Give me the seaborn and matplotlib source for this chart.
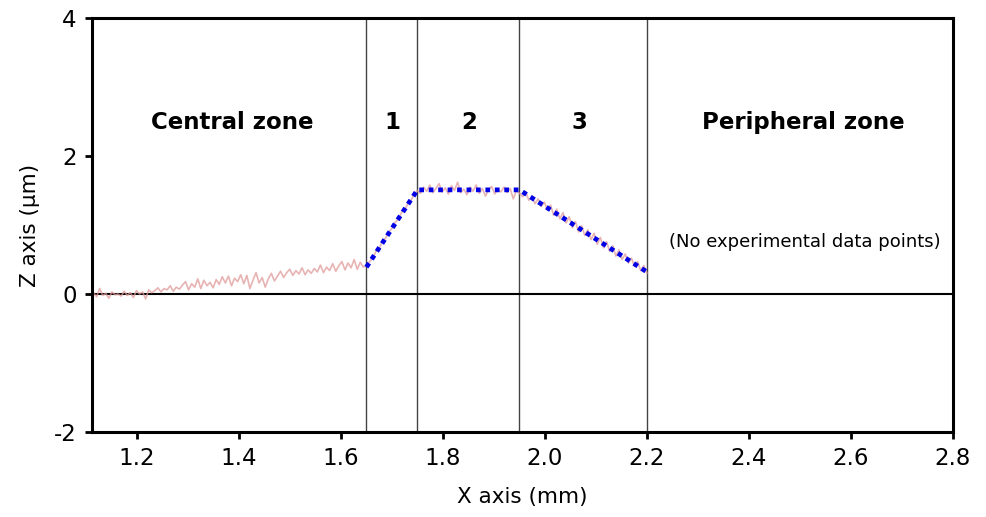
import numpy as np
import pandas as pd
import matplotlib
matplotlib.use("Agg")
import matplotlib.pyplot as plt
import seaborn as sns

sns.set_style('ticks', {'axes.edgecolor': 'black', 'text.color': 'black',
                        'xtick.color': 'black', 'ytick.color': 'black',
                        'axes.labelcolor': 'black'})
plt.rcParams['font.family'] = ['DejaVu Sans']

# %%
# measured profile, read off per zone (z in um)
z_central = [
    0.02, -0.04, 0.08, -0.02, 0.01, -0.06, 0.03, -0.01, 0.00, -0.03,
    0.04, -0.02, 0.02, -0.05, 0.05, 0.00, 0.03, -0.07, 0.06, 0.02,
    0.05, 0.09, 0.03, 0.08, 0.06, 0.12, 0.04, 0.10, 0.07, 0.13,
    0.18, 0.06, 0.15, 0.10, 0.22, 0.08, 0.20, 0.12, 0.17, 0.09,
    0.21, 0.14, 0.25, 0.16, 0.26, 0.12, 0.23, 0.18, 0.28, 0.15,
    0.27, 0.08, 0.20, 0.31, 0.16, 0.24, 0.10, 0.22, 0.30, 0.19,
    0.26, 0.33, 0.24, 0.31, 0.36, 0.27, 0.34, 0.29, 0.38, 0.28,
    0.35, 0.30, 0.37, 0.32, 0.42, 0.31, 0.39, 0.34, 0.44, 0.33,
    0.41, 0.47, 0.35, 0.45, 0.38, 0.50, 0.36, 0.46, 0.39, 0.42,
]
z_zone1 = [0.38, 0.47, 0.52, 0.62, 0.66, 0.76, 0.81, 0.90, 0.95, 1.04,
           1.08, 1.18, 1.22, 1.31, 1.36, 1.45, 1.50]
z_zone2 = [1.52, 1.46, 1.55, 1.49, 1.58, 1.47, 1.53, 1.60, 1.48, 1.54,
           1.45, 1.57, 1.50, 1.62, 1.47, 1.52, 1.44, 1.55, 1.49, 1.58,
           1.46, 1.53, 1.42, 1.51, 1.56, 1.45, 1.52, 1.48, 1.55, 1.47,
           1.53, 1.38, 1.50, 1.46]
z_zone3 = [1.52, 1.41, 1.48, 1.36, 1.42, 1.31, 1.38, 1.27, 1.33, 1.22,
           1.29, 1.14, 1.23, 1.09, 1.18, 1.03, 1.12, 0.96, 1.05, 0.90,
           0.99, 0.85, 0.93, 0.79, 0.88, 0.72, 0.82, 0.67, 0.76, 0.62,
           0.70, 0.55, 0.64, 0.50, 0.58, 0.45, 0.52, 0.40, 0.47, 0.34,
           0.41, 0.30]

# zone limits along x (mm)
x_start = 1.115
zone_edges = [1.65, 1.75, 1.95, 2.2]

# fitted piecewise model
fit_x = [1.65, 1.75, 1.95, 2.2]
fit_z = [0.39, 1.51, 1.51, 0.32]

zone_labels = ["Central zone", "1", "2", "3", "Peripheral zone"]
zone_label_x = [1.386, 1.70, 1.851, 2.067, 2.506]
label_z = 2.48

note_text = "(No experimental data points)"
note_x, note_z = 2.51, 0.75

xticks = [1.2, 1.4, 1.6, 1.8, 2.0, 2.2, 2.4, 2.6, 2.8]
yticks = [-2, 0, 2, 4]

# %%
segments = [
    (x_start, zone_edges[0], z_central),
    (zone_edges[0], zone_edges[1], z_zone1),
    (zone_edges[1], zone_edges[2], z_zone2),
    (zone_edges[2], zone_edges[3], z_zone3),
]
frames = []
for a, b, z in segments:
    frames.append(pd.DataFrame({"x": np.linspace(a, b, len(z)), "z": z}))
profile = pd.concat(frames, ignore_index=True).drop_duplicates("x")
fit = pd.DataFrame({"x": fit_x, "z": fit_z})

fig = plt.figure(figsize=(9.87, 5.17), dpi=100)
ax = fig.add_axes([0.0932, 0.1644, 0.8724, 0.8006])

sns.lineplot(data=profile, x="x", y="z", ax=ax, color="#e09a9a", lw=1.2,
             alpha=0.75, estimator=None, sort=False)
sns.lineplot(data=fit, x="x", y="z", ax=ax, color="#0000e6", lw=3.4,
             estimator=None, sort=False, zorder=5)
fit_line = ax.lines[-1]
fit_line.set_linestyle((0, (1.0, 1.0)))
fit_line.set_dash_capstyle("butt")

for xe in zone_edges:
    ax.axvline(xe, color="#444444", lw=1.0, zorder=1)
ax.axhline(0, color="black", lw=1.5, zorder=1)

for lab, lx in zip(zone_labels, zone_label_x):
    ax.text(lx, label_z, lab, ha="center", va="center", fontsize=16.5,
            fontweight="bold")
ax.text(note_x, note_z, note_text, ha="center", va="center", fontsize=13)

ax.set_xlim(1.112, 2.8)
ax.set_ylim(-2, 4)
ax.set_xticks(xticks)
ax.set_xticklabels([f"{t:.1f}" for t in xticks])
ax.set_yticks(yticks)
ax.set_yticklabels([str(t) for t in yticks])
ax.tick_params(axis="both", direction="out", length=5, width=2,
               labelsize=16.5, pad=6)
for s in ax.spines.values():
    s.set_linewidth(2.2)
ax.set_xlabel("X axis (mm)", fontsize=15.5, labelpad=12)
ax.set_ylabel("Z axis (μm)", fontsize=15.5, labelpad=10)

fig.savefig("out.png", dpi=100)
